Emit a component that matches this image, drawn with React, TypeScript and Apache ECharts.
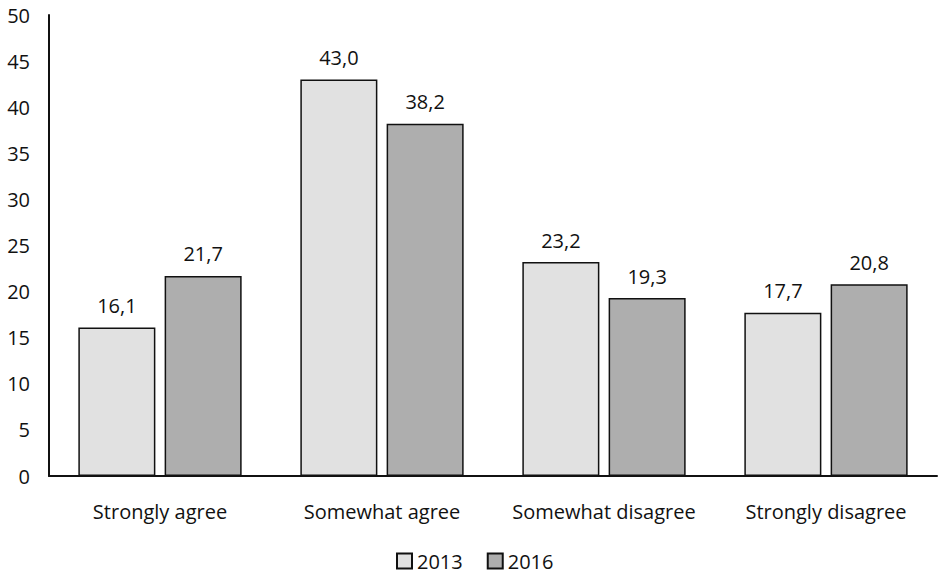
import React, { useEffect, useRef } from "react";
import * as echarts from "echarts";

const categories = ["Strongly agree", "Somewhat agree", "Somewhat disagree", "Strongly disagree"];
const values2013 = [16.1, 43.0, 23.2, 17.7];
const values2016 = [21.7, 38.2, 19.3, 20.8];
const seriesNames = ["2013", "2016"];

const FONT = "'Open Sans', sans-serif";
const FS = 20;

export default function App() {
  const ref = useRef<HTMLDivElement>(null);
  useEffect(() => {
    if (!ref.current) return;
    const chart = echarts.init(ref.current, null, { renderer: "svg" });
    const fmt = (p: any) => Number(p.value).toFixed(1).replace(".", ",");
    const mkSeries = (name: string, data: number[], color: string) => ({
      name,
      type: "bar",
      data,
      barWidth: "34.7%",
      barGap: "12%",
      itemStyle: { color, borderColor: "#111", borderWidth: 1.5 },
      label: {
        show: true,
        position: "top",
        distance: 12,
        formatter: fmt,
        fontFamily: FONT,
        fontSize: FS,
        color: "#111",
      },
    });
    chart.setOption({
      animation: false,
      textStyle: { fontFamily: FONT },
      grid: { left: 49, right: 1, top: 15, bottom: 101, containLabel: false },
      xAxis: {
        type: "category",
        data: categories,
        axisLine: { lineStyle: { color: "#111", width: 2 } },
        axisTick: { show: false },
        axisLabel: { fontFamily: FONT, fontSize: FS, color: "#111", margin: 25, interval: 0, hideOverlap: false },
      },
      yAxis: {
        type: "value",
        min: 0,
        max: 50,
        interval: 5,
        axisLine: { show: true, lineStyle: { color: "#111", width: 2 } },
        axisTick: { show: false },
        splitLine: { show: false },
        axisLabel: { fontFamily: FONT, fontSize: FS, color: "#111", margin: 19 },
      },
      legend: {
        data: seriesNames,
        bottom: 1,
        left: 391,
        icon: "rect",
        itemWidth: 15,
        itemHeight: 15,
        itemGap: 24,
        textStyle: { fontFamily: FONT, fontSize: FS, color: "#111", padding: [0, 0, 0, 0] },
      },
      series: [
        mkSeries(seriesNames[0], values2013, "#e1e1e1"),
        mkSeries(seriesNames[1], values2016, "#aeaeae"),
      ],
    });
    return () => chart.dispose();
  }, []);
  return <div ref={ref} style={{ width: 938, height: 577, position: "absolute", left: 0, top: 0 }} />;
}
